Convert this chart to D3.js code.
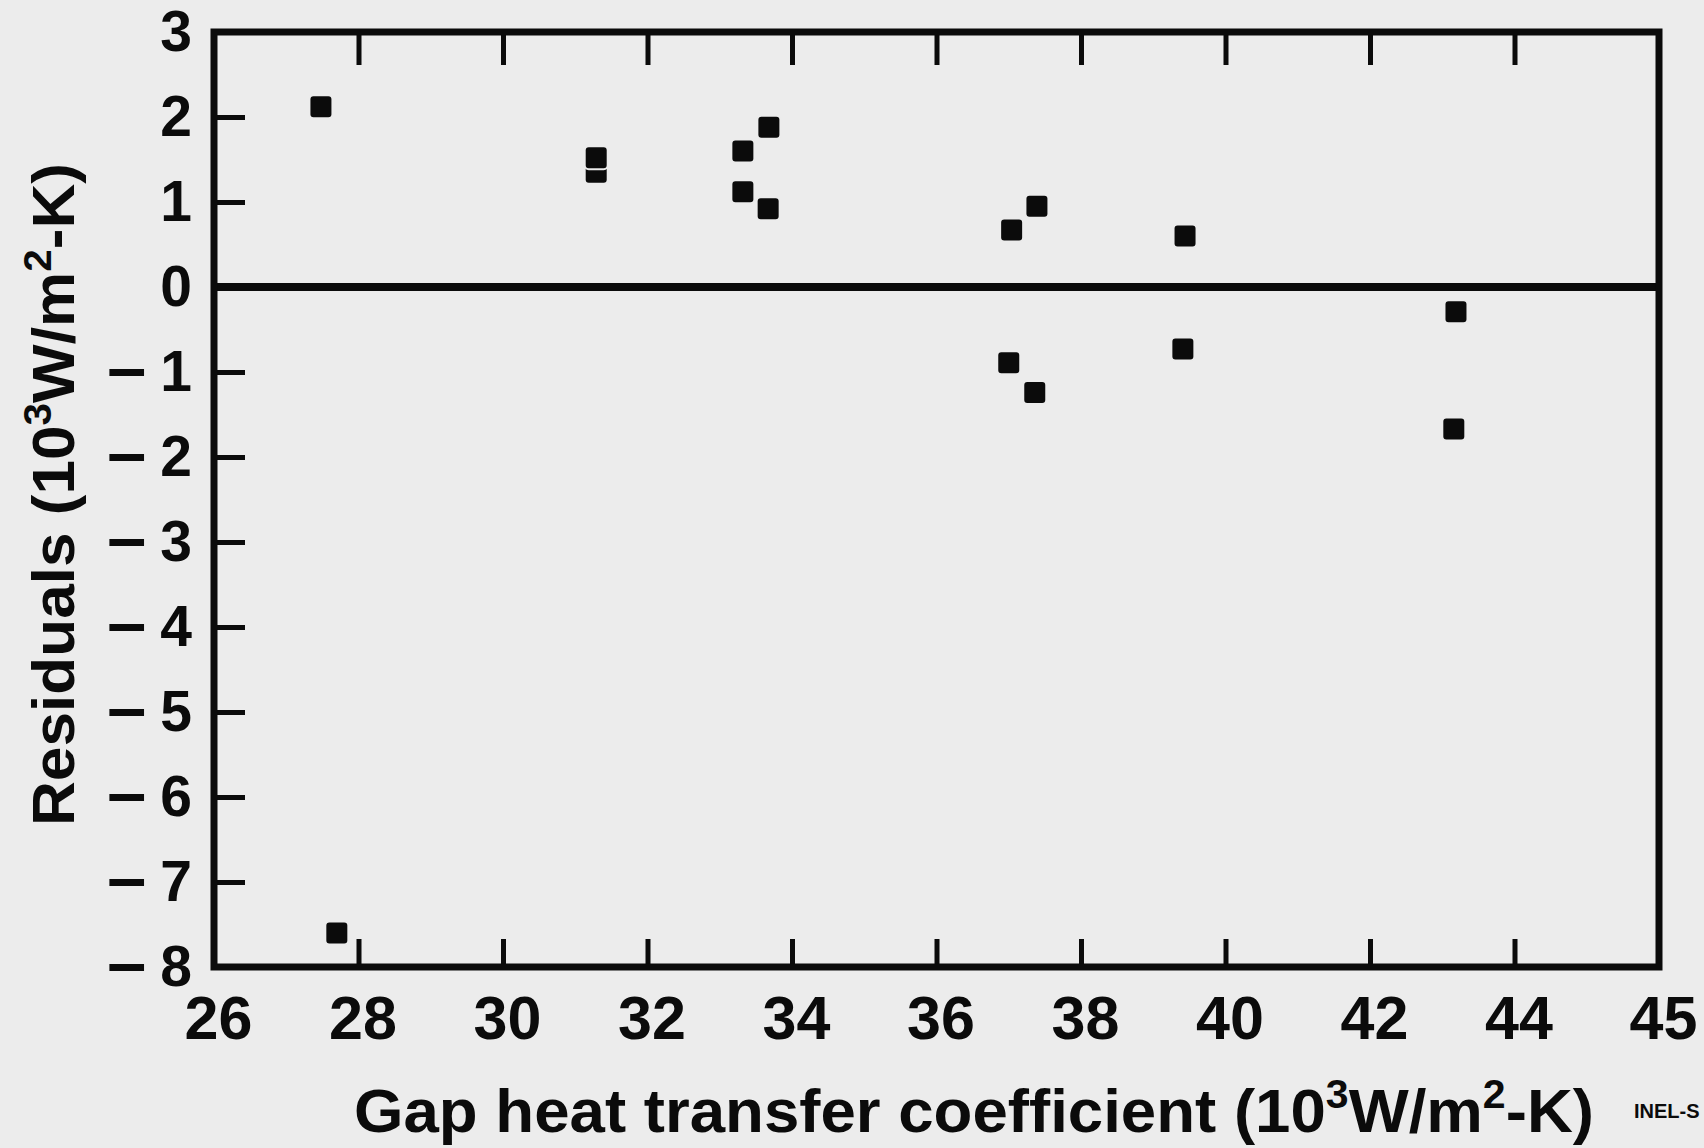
<!DOCTYPE html>
<html>
<head>
<meta charset="utf-8">
<script src="https://cdn.jsdelivr.net/npm/d3@7"></script>
<style>
  body { margin: 0; background: #ececec; }
  svg { display: block; }
  text { font-family: "Liberation Sans", Arial, Helvetica, sans-serif; font-weight: bold; fill: #0b0b0b; }
</style>
</head>
<body>
<div id="chart"></div>
<script>
// residuals vs gap heat transfer coefficient
const gapCoef = [27.48, 27.70, 31.29, 31.29, 33.32, 33.68, 33.32, 33.67, 37.04, 37.39, 39.44, 37.00, 37.36, 39.41, 43.19, 43.16]
const residuals = [2.12, -7.60, 1.35, 1.52, 1.60, 1.88, 1.12, 0.92, 0.67, 0.95, 0.60, -0.89, -1.24, -0.73, -0.29, -1.67]

const xTickValues = [26, 28, 30, 32, 34, 36, 38, 40, 42, 44, 46]
const xTickLabels = ["26", "28", "30", "32", "34", "36", "38", "40", "42", "44", "45"]
const yTickValues = [3, 2, 1, 0, -1, -2, -3, -4, -5, -6, -7, -8]

const W = 1704, H = 1148
const margin = { left: 214, top: 32, right: W - 1659, bottom: H - 967 }
const width = W - margin.left - margin.right,
    height = H - margin.top - margin.bottom

const ink = "#0b0b0b", paper = "#ececec"

const x = d3.scaleLinear().domain([26, 46]).range([0, width])
const y = d3.scaleLinear().domain([-8, 3]).range([height, 0])

const svg = d3.select("#chart")
    .append("svg")
    .attr("width", W)
    .attr("height", H)

svg.append("rect").attr("width", W).attr("height", H).attr("fill", paper)

const g = svg.append("g")
    .attr("transform", "translate(" + margin.left + "," + margin.top + ")")

// inner tick marks (no labels)
const innerX = xTickValues.slice(1, -1)
const innerY = yTickValues.slice(1, -1)

const tickStyle = sel => {
    sel.select(".domain").remove()
    sel.selectAll("line").attr("stroke", ink).attr("stroke-width", 5)
}

g.append("g")
    .attr("transform", "translate(0," + height + ")")
    .call(d3.axisBottom(x).tickValues(innerX).tickSize(-28).tickFormat(""))
    .call(tickStyle)

g.append("g")
    .call(d3.axisTop(x).tickValues(innerX).tickSize(-33).tickFormat(""))
    .call(tickStyle)

g.append("g")
    .call(d3.axisLeft(y).tickValues(innerY).tickSize(-31).tickFormat(""))
    .call(tickStyle)

// tick labels
const labelStyle = size => sel => {
    sel.select(".domain").remove()
    sel.selectAll("line").remove()
    sel.selectAll("text")
        .attr("fill", ink)
        .style("font-size", size + "px")
        .style("font-family", '"Liberation Sans", Arial, sans-serif')
        .style("font-weight", "bold")
}

g.append("g")
    .attr("transform", "translate(4," + height + ")")
    .call(d3.axisBottom(x).tickValues(xTickValues).tickSize(0).tickPadding(29)
        .tickFormat((d, i) => xTickLabels[i]))
    .call(labelStyle(61))

const yLabels = g.append("g")
    .call(d3.axisLeft(y).tickValues(yTickValues).tickSize(0).tickPadding(22)
        .tickFormat(""))
    .call(labelStyle(57))

// negative labels get a long dash in front, like the original lettering
yLabels.selectAll(".tick text").each(function (d) {
    const t = d3.select(this)
    if (d < 0) {
        t.append("tspan").style("font-size", "70px").text("\u2013")
        t.append("tspan").attr("dx", 14).text(Math.abs(d))
    } else {
        t.text(String(d))
    }
})

// zero line
g.append("line")
    .attr("x1", 0).attr("x2", width)
    .attr("y1", y(0)).attr("y2", y(0))
    .attr("stroke", ink).attr("stroke-width", 8)

// frame
g.append("rect")
    .attr("width", width).attr("height", height)
    .attr("fill", "none").attr("stroke", ink).attr("stroke-width", 7)

// points
const size = 23
g.selectAll("rect.pt")
    .data(gapCoef.map((d, i) => [d, residuals[i]]))
    .enter().append("rect")
    .attr("class", "pt")
    .attr("x", d => x(d[0]) - size / 2)
    .attr("y", d => y(d[1]) - size / 2)
    .attr("width", size).attr("height", size)
    .attr("rx", 4)
    .attr("fill", ink)
    .attr("stroke", paper).attr("stroke-width", 2)

// axis titles
const xt = svg.append("text")
    .attr("x", 354).attr("y", 1132)
    .attr("textLength", 1240).attr("lengthAdjust", "spacingAndGlyphs")
    .style("font-size", "62px")
xt.append("tspan").text("Gap heat transfer coefficient (10")
xt.append("tspan").attr("dy", -24).style("font-size", "40px").text("3")
xt.append("tspan").attr("dy", 24).text("W/m")
xt.append("tspan").attr("dy", -24).style("font-size", "40px").text("2")
xt.append("tspan").attr("dy", 24).text("-K)")

const yt = svg.append("text")
    .attr("transform", "translate(74,826) rotate(-90)")
    .attr("textLength", 663).attr("lengthAdjust", "spacingAndGlyphs")
    .style("font-size", "60px")
yt.append("tspan").text("Residuals (10")
yt.append("tspan").attr("dy", -23).style("font-size", "39px").text("3")
yt.append("tspan").attr("dy", 23).text("W/m")
yt.append("tspan").attr("dy", -23).style("font-size", "39px").text("2")
yt.append("tspan").attr("dy", 23).text("-K)")

svg.append("text")
    .attr("x", 1634).attr("y", 1118)
    .style("font-size", "20px")
    .text("INEL-S")
</script>
</body>
</html>
